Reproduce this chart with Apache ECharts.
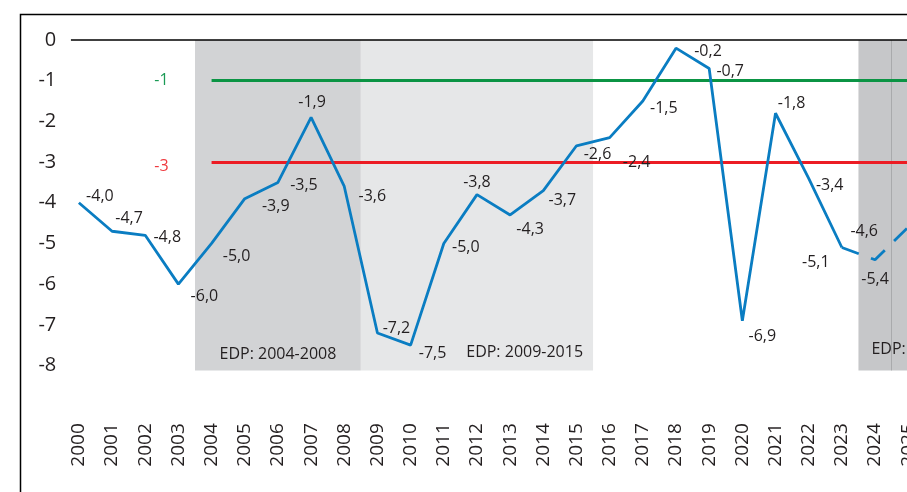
<!DOCTYPE html>
<html>
<head>
<meta charset="utf-8">
<script src="https://cdn.jsdelivr.net/npm/echarts@6/dist/echarts.min.js"></script>
<style>
  html, body { margin: 0; padding: 0; background: #fff; }
  #chart { width: 907px; height: 492px; }
</style>
</head>
<body>
<div id="chart"></div>
<script>
// years on the x axis
var years = ['2000','2001','2002','2003','2004','2005','2006','2007','2008','2009',
  '2010','2011','2012','2013','2014','2015','2016','2017','2018','2019',
  '2020','2021','2022','2023','2024','2025'];
// balance values (share of GDP)
var balance = [-4.0, -4.7, -4.8, -6.0, -5.0, -3.9, -3.5, -1.9, -3.6, -7.2,
  -7.5, -5.0, -3.8, -4.3, -3.7, -2.6, -2.4, -1.5, -0.2, -0.7,
  -6.9, -1.8, -3.4, -5.1, -5.4, -4.6];
// forecast (dashed) part starts here
var forecastFrom = '2023';
// reference limits
var limitLines = [-1, -3];
var limitFrom = '2004';
// EDP periods
var edpPeriods = [
  { from: '2004', to: '2008', name: 'EDP: 2004-2008' },
  { from: '2009', to: '2015', name: 'EDP: 2009-2015' },
  { from: '2024', to: '2025', name: 'EDP: 2024-2025' }
];
var edpSplitYear = '2025';
var yTicks = [0, -1, -2, -3, -4, -5, -6, -7, -8];
var bandBottom = -8.12;

// label placement, offsets from the point (layout only)
var labelOffsets = [[21,-6],[17,-13],[22,2],[26,12],[25,13],[31,8],[26,3],[1,-15],[28,10],[19,-5],
  [22,8],[22,4],[0,-12],[20,14],[19,10],[21,9],[27,25],[21,7],[32,3],[21,3],
  [20,16],[16,-10],[21,7],[-26,15],[0,20],[-44,4]];

var fmt = function (v) { return v.toFixed(1).replace('.', ','); };
var split = years.indexOf(forecastFrom);

function pointData(from, to) {
  return balance.map(function (v, i) {
    if (i < from || i > to) return null;
    return {
      value: v,
      label: { show: true, position: 'inside', offset: labelOffsets[i], formatter: fmt(v) }
    };
  });
}

var solidData = pointData(0, split);
var dashData = pointData(split, balance.length - 1);
// label of the joint point belongs to the solid part
dashData[split].label = { show: false };

var textColor = '#231f20';
var font = '"Open Sans", "Noto Sans", sans-serif';
var bandColors = ['#d2d3d5', '#e6e7e8', '#c6c7c9'];
var bandLabelPos = ['insideBottom', 'insideBottomRight', 'insideBottomLeft'];
var bandLabelDist = [8, 10, 13];

var chart = echarts.init(document.getElementById('chart'));

var option = {
  animation: false,
  textStyle: { fontFamily: font },
  graphic: [{
    type: 'rect', z: 100,
    shape: { x: 20.5, y: 14.5, width: 1000, height: 600 },
    style: { fill: 'none', stroke: '#000', lineWidth: 1.5 }
  }],
  grid: { left: 62.3, top: 40, right: -17.8, bottom: 85.8, containLabel: false, outerBoundsMode: 'none' },
  xAxis: [{
    type: 'category',
    data: years,
    boundaryGap: true,
    axisLine: { show: false },
    axisTick: { show: false },
    axisLabel: { rotate: 90, margin: 17, fontSize: 19, color: textColor, fontFamily: font, interval: 0 }
  }, {
    // hidden helper axis so the EDP bands cover whole year slots
    type: 'value',
    show: false,
    min: -0.5,
    max: years.length - 0.5
  }],
  yAxis: {
    type: 'value',
    min: -9, max: 0, interval: 1,
    axisLine: { show: false },
    axisTick: { show: false },
    splitLine: { show: false },
    axisLabel: {
      margin: 6, fontSize: 20, color: textColor, fontFamily: font,
      formatter: function (v) { return yTicks.indexOf(v) >= 0 ? String(v) : ''; }
    }
  },
  series: [
    {
      type: 'line',
      name: 'edp',
      xAxisIndex: 1,
      data: [],
      z: 1,
      markArea: {
        silent: true,
        data: edpPeriods.map(function (p, i) {
          return [
            {
              xAxis: years.indexOf(p.from) - 0.5, yAxis: 0, name: p.name,
              itemStyle: { color: bandColors[i] },
              label: { show: true, position: bandLabelPos[i], distance: bandLabelDist[i],
                fontSize: 16, color: textColor, fontFamily: font }
            },
            { xAxis: years.indexOf(p.to) + 0.5, yAxis: bandBottom }
          ];
        })
      },
      markLine: {
        silent: true,
        symbol: 'none',
        label: { show: false },
        data: [
          [
            { coord: [years.indexOf(edpSplitYear) - 0.5, 0], lineStyle: { color: '#a9aaac', width: 1, type: 'solid' } },
            { coord: [years.indexOf(edpSplitYear) - 0.5, bandBottom] }
          ],
          // zero line
          [
            { coord: [-0.24, 0], lineStyle: { color: '#000', width: 1.5, type: 'solid' } },
            { coord: [years.length - 0.5, 0] }
          ]
        ]
      }
    },
    {
      type: 'line',
      name: 'limity',
      data: [],
      z: 3,
      markLine: {
        silent: true,
        symbol: 'none',
        data: limitLines.map(function (v, i) {
          var c = i === 0 ? '#0b9444' : '#ec1c24';
          var lc = i === 0 ? '#1a9a55' : '#ef3a3f';
          return [
            { coord: [limitFrom, v], lineStyle: { color: c, width: 3, type: 'solid' },
              label: { show: true, position: 'start', distance: 43, formatter: String(v),
                color: lc, fontSize: 16, fontFamily: font, offset: [0, i === 0 ? 0 : 4] } },
            { coord: [years[years.length - 1], v] }
          ];
        })
      }
    },
    {
      type: 'line',
      name: 'saldo',
      data: solidData,
      symbol: 'circle', symbolSize: 0.1,
      itemStyle: { color: '#0a7dc2' },
      lineStyle: { color: '#0a7dc2', width: 2.8 },
      label: { fontSize: 16, color: textColor, fontFamily: font },
      z: 5
    },
    {
      type: 'line',
      name: 'prognoza',
      data: dashData,
      symbol: 'circle', symbolSize: 0.1,
      itemStyle: { color: '#0a7dc2' },
      lineStyle: { color: '#0a7dc2', width: 2.8, type: [18, 13] },
      label: { fontSize: 16, color: textColor, fontFamily: font },
      z: 5
    }
  ]
};

chart.setOption(option);
</script>
</body>
</html>
